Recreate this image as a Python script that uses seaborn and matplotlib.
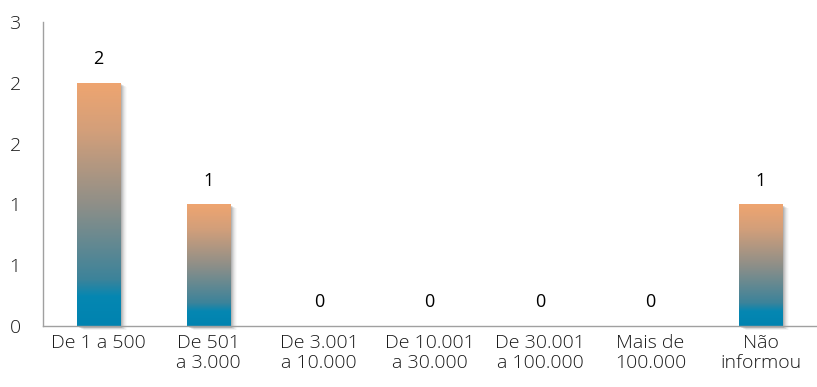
import numpy as np
import pandas as pd
import matplotlib.pyplot as plt
import matplotlib.transforms as mtransforms
from matplotlib.colors import LinearSegmentedColormap
from matplotlib.patches import Rectangle
import seaborn as sns

# données
categorias = ['De 1 a 500', 'De 501\na 3.000', 'De 3.001\na 10.000', 'De 10.001\na 30.000',
              'De 30.001\na 100.000', 'Mais de\n100.000', 'Não\ninformou']
valores = [2, 1, 0, 0, 0, 0, 1]

df = pd.DataFrame({'faixa': categorias, 'n': valores})

sns.set_style('white')
plt.rcParams['font.family'] = ['Open Sans', 'DejaVu Sans']
plt.rcParams['font.weight'] = 'light'

fig = plt.figure(figsize=(8.17, 3.87), dpi=100)
ax = fig.add_axes([0.0526, 0.1576, 0.9462, 0.7854])

sns.barplot(data=df, x='faixa', y='n', width=0.39, ax=ax, color='#0084AE')

# dégradé bleu -> orange
cmap = LinearSegmentedColormap.from_list('grad', [
    (0.0, '#0083B0'), (0.12, '#0587B2'), (0.19, '#3C839A'),
    (0.5, '#8F8F88'), (0.8, '#D39F7A'), (1.0, '#EFA570')])
grad = np.linspace(0, 1, 256).reshape(-1, 1)

for patch, v in zip(ax.patches, valores):
    if v == 0:
        continue
    x0, w, h = patch.get_x(), patch.get_width(), patch.get_height()
    # ombre
    for i, a in enumerate([0.12, 0.10, 0.08, 0.06, 0.04, 0.03, 0.02]):
        off = mtransforms.offset_copy(ax.transData, fig=fig, x=1 + i, y=-1 - i * 0.5, units='dots')
        ax.add_patch(Rectangle((x0, 0), w, h, transform=off, facecolor='black',
                               alpha=a, edgecolor='none', zorder=1, clip_on=False))
    patch.set_facecolor('none')
    patch.set_edgecolor('none')
    im = ax.imshow(grad, cmap=cmap, origin='lower', aspect='auto',
                   extent=[x0, x0 + w, 0, h], zorder=2)
    im.set_clip_path(patch)

for i, v in enumerate(valores):
    ax.annotate(str(v), (i, v), xytext=(0, 17), textcoords='offset points',
                ha='center', va='center', fontsize=13, color='black', fontweight='normal')

ax.set_xlim(-0.5, 6.5)
ax.set_ylim(0, 2.5)
ax.set_yticks([0, 0.5, 1, 1.5, 2, 2.5])
ax.set_yticklabels(['0', '1', '1', '2', '2', '3'])
ax.set_xticks(range(len(categorias)))
ax.set_xticklabels(categorias, linespacing=1.15)
ax.set_xticks(np.arange(-0.5, 7, 1), minor=True)
ax.tick_params(axis='x', which='major', length=0, pad=6, labelsize=14, labelcolor='#1A1A1A')
ax.tick_params(axis='x', which='minor', length=5, color='#A0A0A0', width=1)
ax.tick_params(axis='y', length=5, color='#A0A0A0', width=1, pad=11, labelsize=14, labelcolor='#1A1A1A')
ax.set_xlabel('')
ax.set_ylabel('')

sns.despine(ax=ax, top=True, right=True)
for s in ['left', 'bottom']:
    ax.spines[s].set_color('#A0A0A0')
    ax.spines[s].set_linewidth(1)

fig.savefig('out.png', dpi=100)
